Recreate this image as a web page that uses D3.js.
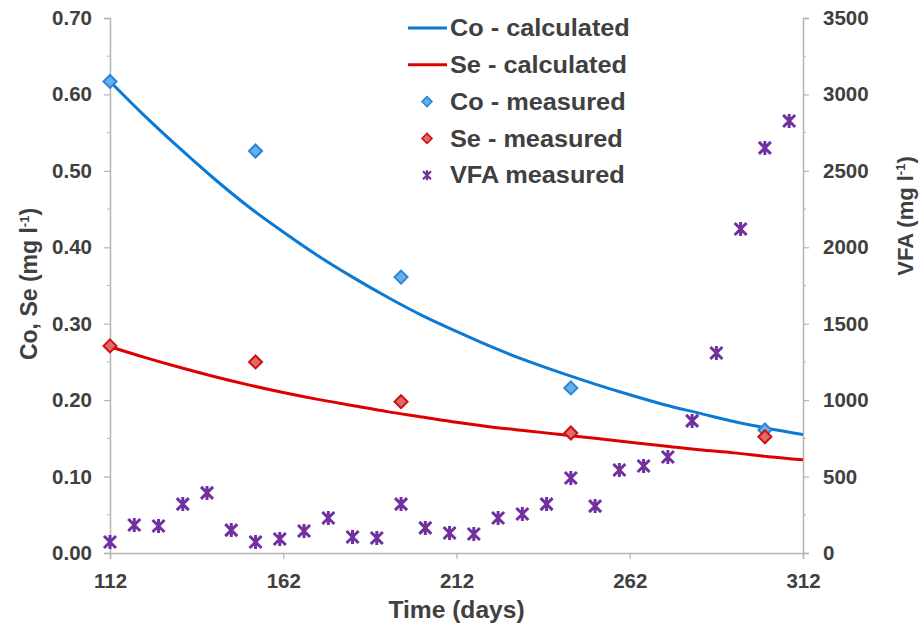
<!DOCTYPE html>
<html>
<head>
<meta charset="utf-8">
<script src="https://cdn.jsdelivr.net/npm/d3@7"></script>
<style>
  html, body { margin: 0; padding: 0; background: #fff; }
  svg text { font-family: "Liberation Sans", Arial, sans-serif; font-weight: bold; fill: #404040; }
</style>
</head>
<body>
<svg id="chart" width="920" height="632"></svg>
<script>
// Sampling days (weekly) for VFA
const vfaDays = [112,119,126,133,140,147,154,161,168,175,182,189,196,203,210,217,224,231,238,245,252,259,266,273,280,287,294,301,308];
const vfaValues = [72,183,177,320,393,150,72,92,144,229,105,98,320,164,131,124,229,255,320,491,307,543,569,628,864,1308,2120,2650,2826];

// Measured trace elements
const measDays = [112,154,196,245,301];
const coMeasured = [0.617,0.526,0.361,0.216,0.161];
const seMeasured = [0.271,0.250,0.198,0.157,0.152];

// Calculated washout curves
const calcDays = [112,122,132,142,152,162,172,182,192,202,212,222,232,242,252,262,272,282,292,302,312];
const coCalculated = [0.617,0.572,0.530,0.490,0.453,0.420,0.389,0.361,0.335,0.311,0.290,0.270,0.252,0.236,0.221,0.207,0.194,0.183,0.172,0.163,0.155];
const seCalculated = [0.270,0.256,0.243,0.231,0.220,0.210,0.201,0.193,0.185,0.178,0.171,0.165,0.160,0.155,0.150,0.145,0.140,0.135,0.131,0.126,0.122];

const xTicks = [112,162,212,262,312];
const leftTicks = [0,0.1,0.2,0.3,0.4,0.5,0.6,0.7];
const rightTicks = [0,500,1000,1500,2000,2500,3000,3500];

const legendItems = [
  {label: "Co - calculated", type: "line", color: "#0a7ad4"},
  {label: "Se - calculated", type: "line", color: "#dd0000"},
  {label: "Co - measured", type: "diamond", fill: "#6aaee6", stroke: "#2a86d6"},
  {label: "Se - measured", type: "diamond", fill: "#e06a6a", stroke: "#cc1111"},
  {label: "VFA measured", type: "star", color: "#7030a0"}
];

const svg = d3.select("#chart");
const m = {left: 110, right: 803, top: 18, bottom: 553};

const x = d3.scaleLinear().domain([112, 312]).range([m.left, m.right]);
const yL = d3.scaleLinear().domain([0, 0.7]).range([m.bottom, m.top]);
const yR = d3.scaleLinear().domain([0, 3500]).range([m.bottom, m.top]);

const axisColor = "#b4b4b4";

// Axes
const gx = svg.append("g").attr("transform", `translate(0,${m.bottom})`)
  .call(d3.axisBottom(x).tickValues(xTicks).tickSize(6).tickPadding(14).tickFormat(d3.format("d")));
const gl = svg.append("g").attr("transform", `translate(${m.left},0)`)
  .call(d3.axisLeft(yL).tickValues(leftTicks).tickSize(6).tickPadding(12).tickFormat(d3.format(".2f")));
const gr = svg.append("g").attr("transform", `translate(${m.right},0)`)
  .call(d3.axisRight(yR).tickValues(rightTicks).tickSize(6).tickPadding(14).tickFormat(d3.format("d")));

// Minor ticks halfway between the labelled ones
const minorL = d3.range(0.05, 0.7, 0.1);
svg.append("g").selectAll("line").data(minorL).join("line")
  .attr("x1", m.left - 3).attr("x2", m.left)
  .attr("y1", d => yL(d)).attr("y2", d => yL(d))
  .attr("stroke", axisColor);
const minorR = d3.range(250, 3500, 500);
svg.append("g").selectAll("line").data(minorR).join("line")
  .attr("x1", m.right).attr("x2", m.right + 3)
  .attr("y1", d => yR(d)).attr("y2", d => yR(d))
  .attr("stroke", axisColor);

[gx, gl, gr].forEach(g => {
  g.select(".domain").attr("stroke", axisColor).attr("stroke-width", 1.5);
  g.selectAll(".tick line").attr("stroke", axisColor).attr("stroke-width", 1.2);
  g.selectAll(".tick text").style("font-size", "20.5px").attr("fill", "#404040");
});

// Axis titles
svg.append("text").attr("transform", `translate(${(m.left + m.right) / 2},618) scale(1.07,1)`)
  .attr("text-anchor", "middle").style("font-size", "23px").text("Time (days)");

function yTitle(tx, ty, main, size) {
  const t = svg.append("text")
    .attr("transform", `translate(${tx},${ty}) rotate(-90)`)
    .attr("text-anchor", "middle").style("font-size", size + "px");
  t.append("tspan").text(main);
  t.append("tspan").attr("dy", -8).style("font-size", "13px").text("-1");
  t.append("tspan").attr("dy", 8).text(")");
}
yTitle(37, 284, "Co, Se (mg l", 23);
yTitle(913, 216, "VFA (mg l", 22);

// Symbol helpers
function starPath(s) {
  return `M${-s},${-s}L${s},${s}M${-s},${s}L${s},${-s}M0,${-s - 1}L0,${s + 1}`;
}
function diamondPath(s) {
  return `M0,${-s}L${s},0L0,${s}L${-s},0Z`;
}

// VFA measured
svg.append("g").selectAll("path").data(vfaDays.map((d, i) => [d, vfaValues[i]])).join("path")
  .attr("transform", d => `translate(${x(d[0])},${yR(d[1])})`)
  .attr("d", starPath(6))
  .attr("fill", "none").attr("stroke", "#7030a0").attr("stroke-width", 3);

// Calculated curves
const line = d3.line().x(d => x(d[0])).y(d => yL(d[1])).curve(d3.curveMonotoneX);
svg.append("path").datum(calcDays.map((d, i) => [d, coCalculated[i]]))
  .attr("d", line).attr("fill", "none").attr("stroke", legendItems[0].color).attr("stroke-width", 3);
svg.append("path").datum(calcDays.map((d, i) => [d, seCalculated[i]]))
  .attr("d", line).attr("fill", "none").attr("stroke", legendItems[1].color).attr("stroke-width", 3);

// Measured diamonds
function diamonds(values, item) {
  svg.append("g").selectAll("path").data(measDays.map((d, i) => [d, values[i]])).join("path")
    .attr("transform", d => `translate(${x(d[0])},${yL(d[1])})`)
    .attr("d", diamondPath(6.5))
    .attr("fill", item.fill).attr("stroke", item.stroke).attr("stroke-width", 2);
}
diamonds(coMeasured, legendItems[2]);
diamonds(seMeasured, legendItems[3]);

// Legend
const lg = svg.append("g");
legendItems.forEach((it, i) => {
  const cy = 28 + i * 36.8;
  if (it.type === "line") {
    lg.append("line").attr("x1", 408).attr("x2", 447).attr("y1", cy).attr("y2", cy)
      .attr("stroke", it.color).attr("stroke-width", 3);
  } else if (it.type === "diamond") {
    lg.append("path").attr("transform", `translate(427,${cy})`).attr("d", diamondPath(5))
      .attr("fill", it.fill).attr("stroke", it.stroke).attr("stroke-width", 1.5);
  } else {
    lg.append("path").attr("transform", `translate(427,${cy})`).attr("d", starPath(4))
      .attr("fill", "none").attr("stroke", it.color).attr("stroke-width", 2.2);
  }
  lg.append("text").attr("transform", `translate(450,${cy}) scale(1.1,1)`).attr("dy", "0.36em")
    .style("font-size", "23px").text(it.label);
});
</script>
</body>
</html>
